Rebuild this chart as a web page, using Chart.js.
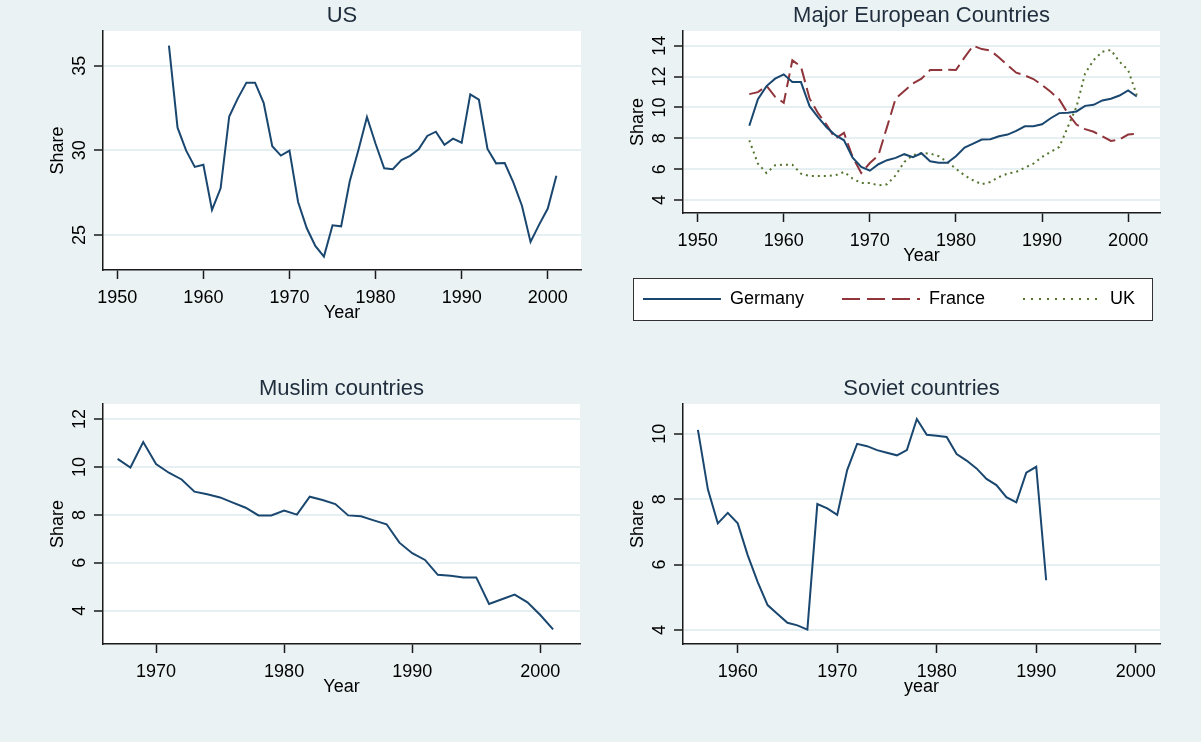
<!DOCTYPE html>
<html>
<head>
<meta charset="utf-8">
<title>Share by country group</title>
<script src="https://cdn.jsdelivr.net/npm/chart.js@4.4.1/dist/chart.umd.min.js"></script>
<style>
  body { margin: 0; background: #EAF2F3; }
  #page { position: relative; width: 1201px; height: 742px; }
  canvas { position: absolute; }
  #legendBox { position: absolute; left: 633px; top: 278px; width: 520px; height: 43px;
    box-sizing: border-box; border: 1.5px solid #333; background: #fff; }
</style>
</head>
<body>
<div id="page">
  <div id="legendBox"></div>
  <canvas id="usChart" width="600" height="330" style="left:0;top:0"></canvas>
  <canvas id="euChart" width="580" height="273" style="left:600px;top:0"></canvas>
  <canvas id="euLegend" width="600" height="150" style="left:589px;top:252px"></canvas>
  <canvas id="muslimChart" width="600" height="331" style="left:0;top:373px"></canvas>
  <canvas id="sovietChart" width="580" height="331" style="left:600px;top:373px"></canvas>
</div>
<script>
// --- data ---
const usYears = [1956,1957,1958,1959,1960,1961,1962,1963,1964,1965,1966,1967,1968,1969,1970,1971,1972,1973,1974,1975,
  1976,1977,1978,1979,1980,1981,1982,1983,1984,1985,1986,1987,1988,1989,1990,1991,1992,1993,1994,1995,
  1996,1997,1998,1999,2000,2001];
const usShare = [36.18,31.34,29.98,29.02,29.15,26.48,27.76,32.0,33.07,34.0,34.0,32.81,30.24,29.69,29.98,26.95,25.41,24.35,23.72,25.57,
  25.51,28.17,30.0,31.97,30.39,28.94,28.88,29.43,29.67,30.06,30.85,31.10,30.33,30.69,30.45,33.31,32.99,30.08,29.23,29.25,
  28.11,26.73,24.59,25.61,26.56,28.50];

const euYears = usYears;
const germany = [8.81,10.54,11.38,11.86,12.14,11.64,11.64,10.08,9.35,8.70,8.20,7.87,6.75,6.14,5.90,6.32,6.58,6.73,6.97,6.77,
  7.03,6.51,6.42,6.42,6.84,7.40,7.66,7.92,7.94,8.13,8.24,8.48,8.78,8.78,8.91,9.30,9.63,9.65,9.74,10.10,
  10.17,10.45,10.56,10.77,11.10,10.71];
const france = [10.86,10.99,11.40,10.69,10.30,13.05,12.64,10.58,9.61,8.85,7.98,8.35,6.79,5.75,6.40,6.90,8.74,10.58,11.06,11.55,
  11.86,12.42,12.42,12.44,12.42,13.24,14.0,13.78,13.68,13.24,12.74,12.25,12.07,11.84,11.45,11.01,10.52,9.61,8.89,8.59,
  8.42,8.13,7.83,7.92,8.24,8.3];
const uk = [7.87,6.36,5.75,6.25,6.29,6.29,5.71,5.56,5.56,5.56,5.60,5.82,5.39,5.10,5.10,4.95,5.02,5.60,6.47,6.90,
  7.05,7.01,6.84,6.47,6.03,5.60,5.28,5.02,5.17,5.49,5.71,5.82,6.10,6.36,6.79,7.12,7.44,8.74,10.04,12.20,
  13.07,13.61,13.72,12.96,12.42,10.80];

const muslimYears = [1967,1968,1969,1970,1971,1972,1973,1974,1975,1976,1977,1978,1979,1980,1981,1982,1983,1984,1985,1986,
  1987,1988,1989,1990,1991,1992,1993,1994,1995,1996,1997,1998,1999,2000,2001];
const muslimShare = [10.34,9.98,11.04,10.12,9.76,9.48,8.97,8.86,8.73,8.51,8.30,7.98,7.98,8.18,8.01,8.76,8.62,8.45,7.98,7.94,
  7.77,7.61,6.84,6.40,6.12,5.50,5.46,5.39,5.39,4.28,4.48,4.67,4.35,3.82,3.22];

const sovietYears = [1956,1957,1958,1959,1960,1961,1962,1963,1964,1965,1966,1967,1968,1969,1970,1971,1972,1973,1974,1975,
  1976,1977,1978,1979,1980,1981,1982,1983,1984,1985,1986,1987,1988,1989,1990,1991];
const sovietShare = [10.12,8.30,7.26,7.58,7.26,6.29,5.47,4.76,4.49,4.22,4.14,4.01,7.85,7.72,7.52,8.89,9.69,9.62,9.50,9.42,
  9.34,9.50,10.45,9.97,9.94,9.90,9.38,9.18,8.94,8.62,8.43,8.06,7.90,8.81,8.99,5.52];

// tick labels
const usTicksX = [1950,1960,1970,1980,1990,2000];
const usTicksY = [25,30,35];
const euTicksY = [4,6,8,10,12,14];
const muslimTicksX = [1970,1980,1990,2000];
const muslimTicksY = [4,6,8,10,12];
const sovietTicksX = [1960,1970,1980,1990,2000];
const sovietTicksY = [4,6,8,10];

// --- look ---
Chart.defaults.font.family = "'Liberation Sans', Arial, sans-serif";
Chart.defaults.color = '#000';

const NAVY = '#1A476F', MAROON = '#90353B', GREEN = '#55752F';
const AXIS = '#1a1a1a', GRID = '#E6EFF1';

const whitePlot = {
  id: 'whitePlot',
  beforeDraw(chart) {
    const {ctx, chartArea: a} = chart;
    ctx.save();
    ctx.fillStyle = '#fff';
    ctx.fillRect(a.left, a.top, a.right - a.left, a.bottom - a.top);
    ctx.restore();
  }
};

function pts(xs, ys) {
  return xs.map((x, i) => ({x: x, y: ys[i]}));
}

function line(label, xs, ys, color, dash, legendDash) {
  return {
    label: label,
    data: pts(xs, ys),
    borderColor: color,
    backgroundColor: color,
    borderWidth: 2,
    borderDash: dash,
    legendDash: legendDash,
    pointRadius: 0,
    tension: 0,
    fill: false
  };
}

function makeChart(id, o) {
  return new Chart(document.getElementById(id), {
    type: 'line',
    data: { datasets: o.datasets },
    plugins: [whitePlot],
    options: {
      responsive: false,
      animation: false,
      devicePixelRatio: 1,
      layout: { padding: { left: o.padLeft, right: o.padRight, top: 0, bottom: 0 } },
      scales: {
        x: {
          type: 'linear',
          min: o.xMin,
          max: o.xMax,
          afterBuildTicks: s => { s.ticks = o.xTicks.map(v => ({value: v})); },
          afterFit: s => { s.height = o.xHeight; },
          grid: { drawOnChartArea: false, tickLength: 9, tickColor: AXIS, tickWidth: 1.5 },
          border: { color: AXIS, width: 1.5 },
          ticks: { font: {size: 18}, padding: 8, maxRotation: 0, autoSkip: false, callback: v => String(v) },
          title: { display: true, text: o.xTitle, font: {size: 18}, padding: {top: 0, bottom: o.xTitlePad} }
        },
        y: {
          type: 'linear',
          min: o.yMin,
          max: o.yMax,
          afterBuildTicks: s => { s.ticks = o.yTicks.map(v => ({value: v})); },
          afterFit: s => { s.width = o.yWidth; },
          grid: { color: GRID, lineWidth: 2, tickLength: 9, tickColor: AXIS, tickWidth: 1.5 },
          border: { color: AXIS, width: 1.5 },
          ticks: { font: {size: 18}, padding: 4, minRotation: 90, maxRotation: 90, crossAlign: 'center',
                   autoSkip: false, callback: v => String(v) },
          title: { display: true, text: 'Share', font: {size: 18}, padding: {top: o.yTitlePad, bottom: 0} }
        }
      },
      plugins: {
        title: {
          display: true,
          text: o.title,
          fullSize: false,
          color: '#1f2d3d',
          font: { size: 22, weight: 'normal', lineHeight: '22px' },
          padding: { top: 5, bottom: 4 }
        },
        legend: { display: false },
        tooltip: { enabled: false }
      }
    }
  });
}

makeChart('usChart', {
  title: 'US', xTitle: 'Year',
  datasets: [line('US', usYears, usShare, NAVY, [], [])],
  padLeft: 0, padRight: 19, yWidth: 103, xHeight: 60,
  xMin: 1948.34, xMax: 2003.86, yMin: 22.93, yMax: 37.05,
  xTicks: usTicksX, yTicks: usTicksY, xTitlePad: 6, yTitlePad: 47.5
});

const euDatasets = () => [
  line('Germany', euYears, germany, NAVY, [], []),
  line('France', euYears, france, MAROON, [14, 6], [18, 7]),
  line('UK', euYears, uk, GREEN, [2, 4], [2, 6])
];

makeChart('euChart', {
  title: 'Major European Countries', xTitle: 'Year',
  datasets: euDatasets(),
  padLeft: 18, padRight: 20, yWidth: 65, xHeight: 60,
  xMin: 1948.3, xMax: 2003.7, yMin: 3.16, yMax: 14.95,
  xTicks: usTicksX, yTicks: euTicksY, xTitlePad: 6, yTitlePad: 9.5
});

// legend of the European panel, laid out by Chart.js in its own strip
new Chart(document.getElementById('euLegend'), {
  type: 'line',
  data: { datasets: euDatasets().map(d => Object.assign(d, { data: [] })) },
  options: {
    responsive: false,
    animation: false,
    devicePixelRatio: 1,
    layout: { padding: 0 },
    scales: { x: { display: false }, y: { display: false } },
    plugins: {
      tooltip: { enabled: false },
      legend: {
        display: true,
        position: 'top',
        labels: {
          usePointStyle: true,
          pointStyleWidth: 78,
          boxHeight: 18,
          padding: 38,
          color: '#000',
          font: { size: 18 },
          generateLabels: chart => chart.data.datasets.map((d, i) => ({
            text: d.label,
            strokeStyle: d.borderColor,
            fillStyle: d.borderColor,
            lineWidth: 2,
            lineDash: d.legendDash,
            pointStyle: 'line',
            datasetIndex: i,
            hidden: false
          }))
        }
      }
    }
  }
});

makeChart('muslimChart', {
  title: 'Muslim countries', xTitle: 'Year',
  datasets: [line('Muslim countries', muslimYears, muslimShare, NAVY, [], [])],
  padLeft: 0, padRight: 20, yWidth: 103, xHeight: 60,
  xMin: 1965.86, xMax: 2003.1, yMin: 2.61, yMax: 12.63,
  xTicks: muslimTicksX, yTicks: muslimTicksY, xTitlePad: 6, yTitlePad: 47.5
});

makeChart('sovietChart', {
  title: 'Soviet countries', xTitle: 'year',
  datasets: [line('Soviet countries', sovietYears, sovietShare, NAVY, [], [])],
  padLeft: 18, padRight: 20, yWidth: 65, xHeight: 60,
  xMin: 1954.5, xMax: 2002.44, yMin: 3.57, yMax: 10.91,
  xTicks: sovietTicksX, yTicks: sovietTicksY, xTitlePad: 6, yTitlePad: 9.5
});
</script>
</body>
</html>
